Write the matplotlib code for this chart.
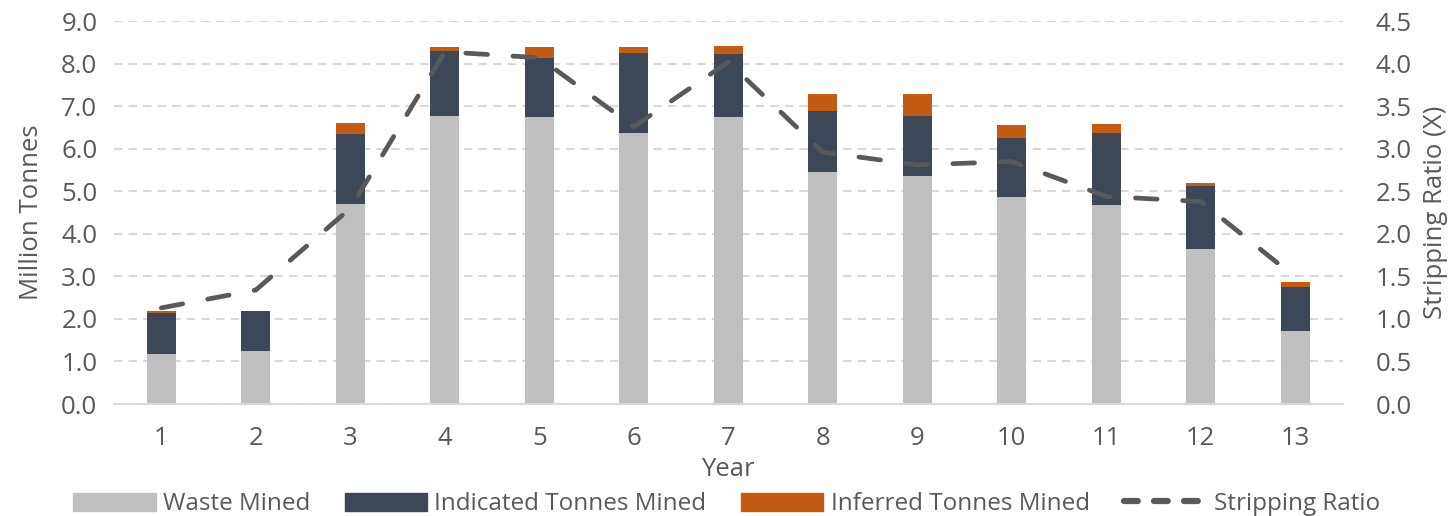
"""
Annual mining schedule: stacked tonnes mined by category with the stripping ratio on a second axis.
"""

import matplotlib.pyplot as plt
import matplotlib.patches as mpatches
from matplotlib.lines import Line2D
import numpy as np

plt.rcParams["font.family"] = ["Open Sans", "DejaVu Sans"]

# Schedule data (million tonnes per year)
years = ["1", "2", "3", "4", "5", "6", "7", "8", "9", "10", "11", "12", "13"]
waste_mined = [1.17, 1.25, 4.71, 6.77, 6.74, 6.38, 6.74, 5.45, 5.37, 4.86, 4.67, 3.65, 1.72]
indicated_mined = [0.98, 0.93, 1.64, 1.52, 1.40, 1.88, 1.49, 1.44, 1.40, 1.40, 1.70, 1.48, 1.02]
inferred_mined = [0.04, 0.01, 0.25, 0.10, 0.25, 0.13, 0.18, 0.40, 0.52, 0.31, 0.21, 0.06, 0.14]
stripping_ratio = [1.13, 1.34, 2.30, 4.14, 4.07, 3.26, 4.02, 2.96, 2.81, 2.85, 2.44, 2.38, 1.49]

COLORS = {
    "waste": "#BFBFBF",
    "indicated": "#3C4858",
    "inferred": "#C55A11",
    "ratio": "#595959",
    "grid": "#D9D9D9",
    "text": "#595959",
}
FS = 18.5

fig = plt.figure(figsize=(14.53, 5.16), dpi=100)
ax = fig.add_axes([0.0785, 0.217, 0.8455, 0.742])
ax2 = ax.twinx()

x = np.arange(len(years))
width = 0.31
waste = np.array(waste_mined)
indicated = np.array(indicated_mined)
inferred = np.array(inferred_mined)

ax.bar(x, waste, width, color=COLORS["waste"], zorder=2)
ax.bar(x, indicated, width, bottom=waste, color=COLORS["indicated"], zorder=2)
ax.bar(x, inferred, width, bottom=waste + indicated, color=COLORS["inferred"], zorder=2)

ratio_line, = ax2.plot(x, stripping_ratio, color=COLORS["ratio"], linewidth=3.4,
                       dash_capstyle="round", solid_capstyle="round", zorder=3)
ratio_line.set_dashes([4.6, 5.4])

# Left axis: tonnes
ax.set_xlim(-0.5, len(years) - 0.5)
ax.set_ylim(0, 9)
ax.set_yticks(np.arange(0, 9.1, 1.0))
ax.set_yticklabels([f"{v:.1f}" for v in np.arange(0, 9.1, 1.0)])
ax.set_xticks(x)
ax.set_xticklabels(years)
ax.yaxis.grid(True, color=COLORS["grid"], linestyle=(0, (4, 3)), linewidth=1.5, zorder=0)
ax.set_axisbelow(True)
ax.set_ylabel("Million Tonnes", fontsize=FS, color=COLORS["text"], labelpad=12)
ax.set_xlabel("Year", fontsize=FS, color=COLORS["text"], labelpad=4)

# Right axis: stripping ratio
ax2.set_ylim(0, 4.5)
ax2.set_yticks(np.arange(0, 4.51, 0.5))
ax2.set_yticklabels([f"{v:.1f}" for v in np.arange(0, 4.51, 0.5)])
ax2.set_ylabel("Stripping Ratio (X)", fontsize=FS, color=COLORS["text"], labelpad=8)

for a in (ax, ax2):
    for side in ("top", "left", "right"):
        a.spines[side].set_visible(False)
    a.spines["bottom"].set_color(COLORS["grid"])
    a.spines["bottom"].set_linewidth(1.5)
    a.tick_params(axis="both", length=0, labelsize=FS, colors=COLORS["text"])
ax.tick_params(axis="x", pad=16)
ax.tick_params(axis="y", pad=12)
ax2.tick_params(axis="y", pad=24)

legend_line = Line2D([0], [0], color=COLORS["ratio"], linewidth=4.5,
                     dash_capstyle="round", label="Stripping Ratio")
legend_line.set_dashes([2.2, 2.6])
handles = [
    mpatches.Patch(color=COLORS["waste"], label="Waste Mined"),
    mpatches.Patch(color=COLORS["indicated"], label="Indicated Tonnes Mined"),
    mpatches.Patch(color=COLORS["inferred"], label="Inferred Tonnes Mined"),
    legend_line,
]
fig.legend(handles=handles, loc="lower center", bbox_to_anchor=(0.5, -0.043), ncol=4,
           frameon=False, fontsize=17.5, labelcolor=COLORS["text"], handlelength=3.4,
           handleheight=0.8, handletextpad=0.3, columnspacing=1.4)

fig.savefig("out.png", dpi=100)
